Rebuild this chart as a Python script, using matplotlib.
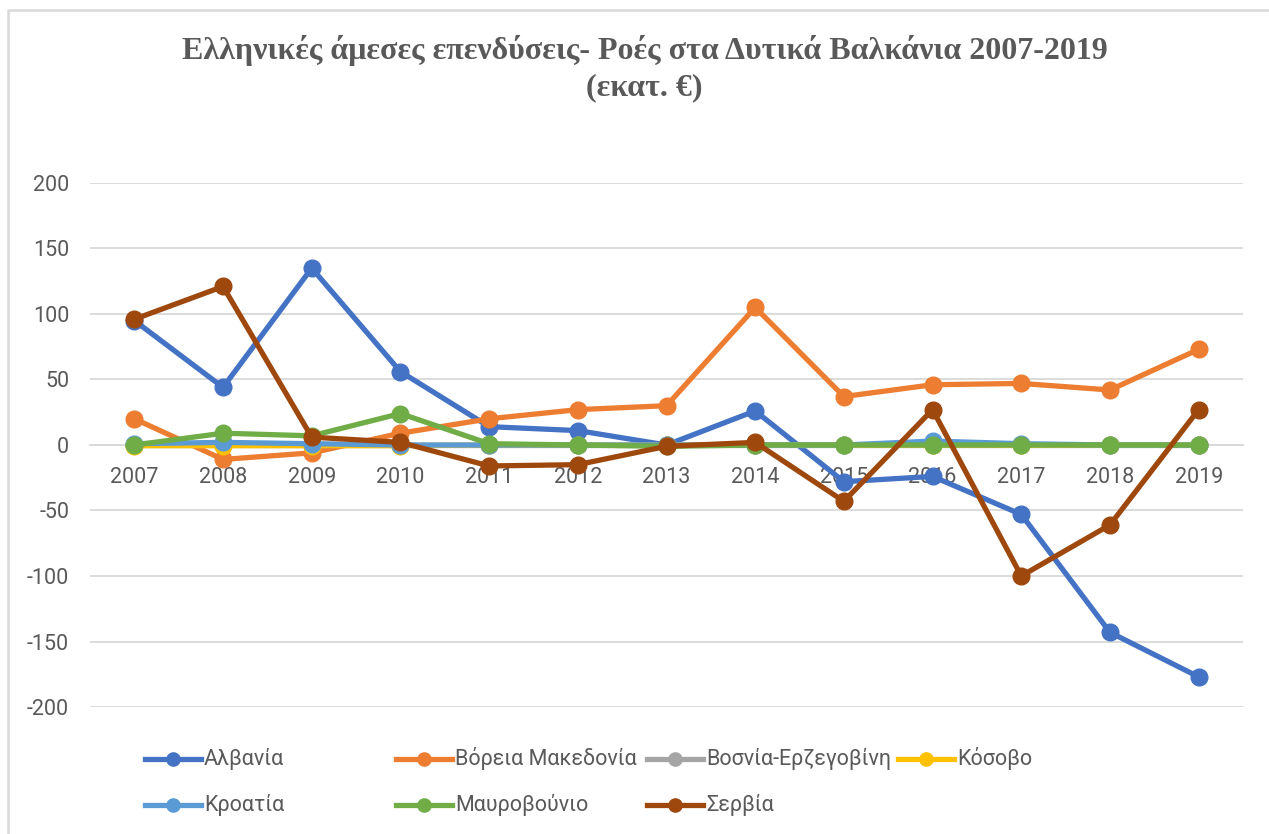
import numpy as np
import matplotlib.pyplot as plt
from matplotlib.lines import Line2D

plt.rcParams['font.family'] = ['Roboto', 'DejaVu Sans']
plt.rcParams['axes.unicode_minus'] = False

# data (εκατ. €)
years = ['2007', '2008', '2009', '2010', '2011', '2012', '2013',
         '2014', '2015', '2016', '2017', '2018', '2019']
albania = [95, 44, 135, 56, 14, 11, 0, 26, -28, -24, -53, -143, -177]
n_macedonia = [20, -11, -6, 9, 20, 27, 30, 105, 37, 46, 47, 42, 73]
bosnia = [0, 0, 0, 0, 0, 0, 0, 0, 0, 0, 0, 0, 0]
kosovo = [-0.5, -0.5, -0.5, -0.5, 0, 0, 0, 0, 0, 0, 0, 0, 0]
croatia = [1, 2, 1, 0, 0, 0, 0, 0, 0, 3, 1, 0, 0]
montenegro = [0, 9, 7, 24, 1, 0, -1, 0, 0, 0, 0, 0, 0]
serbia = [96, 121, 6, 2, -16, -15, -1, 2, -43, 27, -100, -61, 27]

names = ['Αλβανία', 'Βόρεια Μακεδονία', 'Βοσνία-Ερζεγοβίνη', 'Κόσοβο',
         'Κροατία', 'Μαυροβούνιο', 'Σερβία']
series = [albania, n_macedonia, bosnia, kosovo, croatia, montenegro, serbia]
colors = ['#4472C4', '#ED7D31', '#A5A5A5', '#FFC000',
          '#5B9BD5', '#70AD47', '#9E480E']

txt = '#595959'
fig = plt.figure(figsize=(12.69, 8.34), dpi=100)
ax = fig.add_axes([90 / 1269, 1 - 707 / 834, 1153 / 1269, 524 / 834])

x = np.arange(len(years))
for vals, c in zip(series, colors):
    ax.plot(x, vals, color=c, lw=3.8, marker='o', ms=12, zorder=3)

ax.set_xlim(-0.5, len(years) - 0.5)
ax.set_ylim(-200, 200)
ax.set_yticks(np.arange(-200, 201, 50))
ax.set_xticks(x)
ax.set_xticklabels(years)
ax.grid(axis='y', color='#D9D9D9', lw=1.3)
ax.set_axisbelow(True)

# hide the spines, the category axis sits on zero
for s in ['top', 'right', 'left']:
    ax.spines[s].set_visible(False)
ax.spines['bottom'].set_position(('data', 0))
ax.spines['bottom'].set_color('#D9D9D9')
ax.spines['bottom'].set_linewidth(1.3)
ax.spines['bottom'].set_zorder(1)
ax.tick_params(axis='x', length=0, pad=16, labelsize=15.5, labelcolor=txt)
ax.tick_params(axis='y', length=0, pad=15, labelsize=15.5, labelcolor=txt)

# title
title_kw = dict(ha='center', va='center', fontsize=23, fontweight='bold',
                family='Liberation Serif', color=txt)
fig.text(0.508, 1 - 50 / 834,
         'Ελληνικές άμεσες επενδύσεις- Ροές στα Δυτικά Βαλκάνια 2007-2019', **title_kw)
fig.text(0.508, 1 - 88 / 834, '(εκατ. €)', **title_kw)

# legend, Excel style fixed-width columns
for i, (name, c) in enumerate(zip(names, colors)):
    col, row = i % 4, i // 4
    x0 = 145 + col * 251
    y0 = 1 - (759 + row * 46) / 834
    fig.add_artist(Line2D([x0 / 1269, (x0 + 56) / 1269], [y0, y0], color=c, lw=3.8,
                          transform=fig.transFigure))
    fig.add_artist(Line2D([(x0 + 28) / 1269], [y0], color=c, marker='o', ms=9.5,
                          transform=fig.transFigure))
    fig.text((x0 + 59) / 1269, y0, name, ha='left', va='center',
             fontsize=15.5, color=txt)

# chart border
fig.add_artist(Line2D([7.5 / 1269, 7.5 / 1269, 1], [0, 1 - 10 / 834, 1 - 10 / 834],
                      color='#D9D9D9', lw=1.8, transform=fig.transFigure))

plt.savefig('out.png', dpi=100)
